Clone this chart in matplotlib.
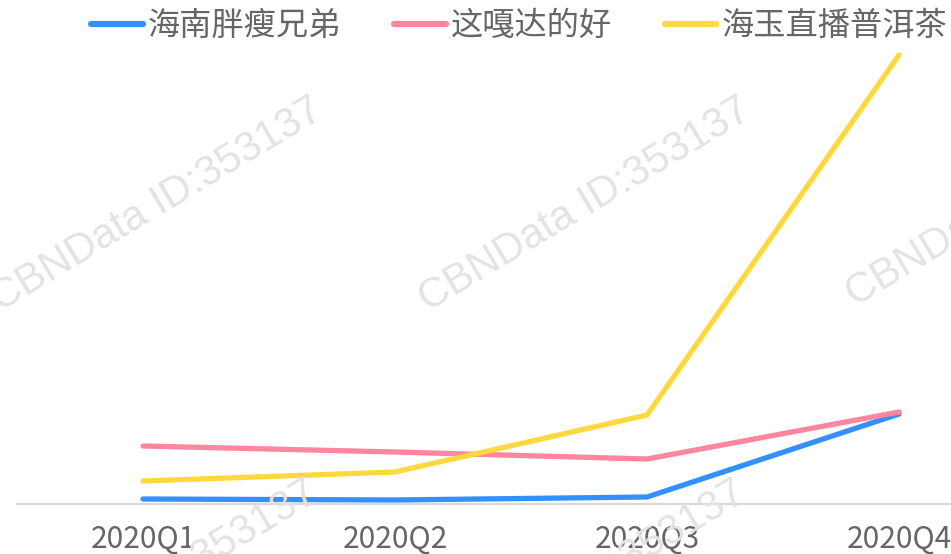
import matplotlib.pyplot as plt

plt.rcParams['font.family'] = ['Noto Sans CJK SC', 'DejaVu Sans']

quarters = ['2020Q1', '2020Q2', '2020Q3', '2020Q4']
names = ['海南胖瘦兄弟', '这嘎达的好', '海玉直播普洱茶']
hainan = [5, 4, 7, 90]
zhegada = [58, 52, 45, 92]
haiyu = [23, 32, 89, 449]
colors = ['#3390FF', '#FF869E', '#FFD83F']

W, H = 951, 554
fig = plt.figure(figsize=(W / 100, H / 100), dpi=100)
fig.patch.set_facecolor('white')

# watermarks, tiled
marks = [(0, 312), (428, 312), (855, 307), (-5, 695), (423, 695)]
for px, py in marks:
    fig.text(px / W, 1 - py / H, 'CBNData ID:353137', fontsize=30, color='#E3E3E3',
             family='Liberation Sans', rotation=31, rotation_mode='anchor',
             ha='left', va='baseline', zorder=0)

# axis wider than the figure: the right half-slot is cut off like in the original
ax = fig.add_axes([17 / W, 50 / H, 1008 / W, 500 / H])
ax.patch.set_alpha(0)
x = range(len(quarters))
for ys, name, c in zip([hainan, zhegada, haiyu], names, colors):
    ax.plot(x, ys, color=c, lw=3.8, label=name, solid_capstyle='round')

ax.set_xlim(-0.5, 3.5)
ax.set_ylim(0, 500)
ax.set_xticks(list(x))
ax.set_xticklabels(quarters, fontsize=21.5, color='#666666')
ax.tick_params(axis='x', length=0, pad=14)
ax.set_yticks([])
for s in ['top', 'right', 'left']:
    ax.spines[s].set_visible(False)
ax.spines['bottom'].set_color('#D9D9D9')
ax.spines['bottom'].set_linewidth(1.6)

leg = fig.legend(loc='upper right', bbox_to_anchor=(947 / W, 1 - 10 / H), ncol=3, frameon=False,
                 fontsize=23.2, handlelength=1.6, handletextpad=0.15, columnspacing=1.65,
                 borderaxespad=0, borderpad=0)
for t in leg.get_texts():
    t.set_color('#666666')
for l in leg.get_lines():
    l.set_linewidth(4.5)

fig.savefig('out.png', dpi=100)
